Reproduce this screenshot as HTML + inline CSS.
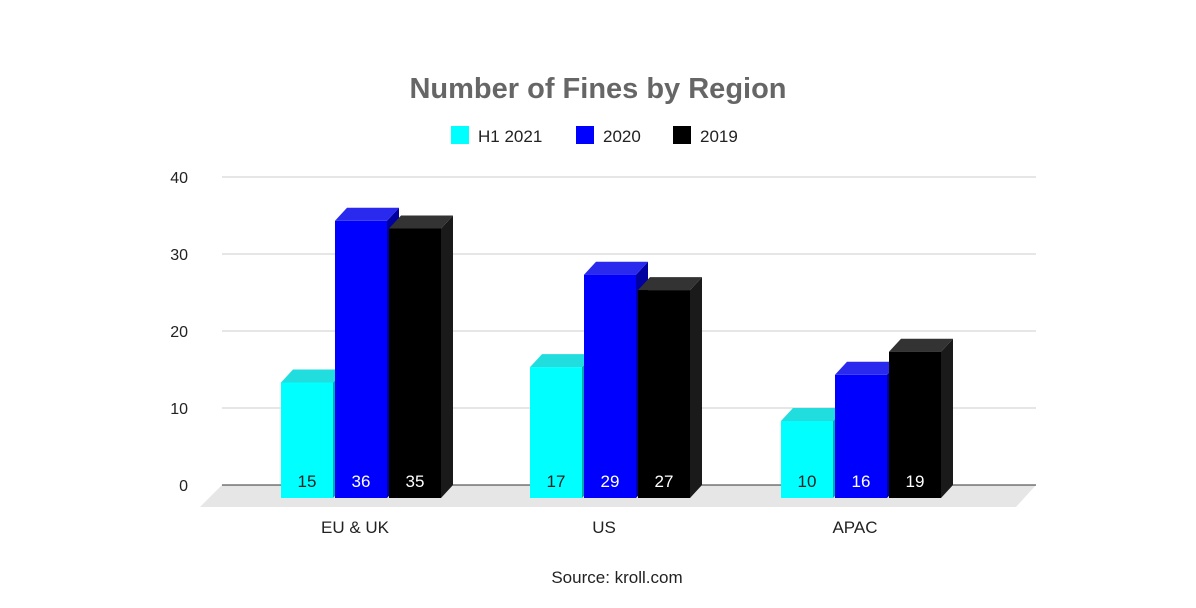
<!DOCTYPE html>
<html><head><meta charset="utf-8"><style>
body{margin:0;background:#fff;width:1196px;height:603px;overflow:hidden;font-family:"Liberation Sans",Arial,sans-serif}
</style></head><body>
<svg width="1196" height="603" font-family="Liberation Sans, Arial, sans-serif">
<text x="598" y="98" text-anchor="middle" font-size="29" font-weight="bold" fill="#666">Number of Fines by Region</text>
<g id="legend"></g>
<g id="grid"></g>
<g id="bars"></g>
<text x="617" y="583" text-anchor="middle" font-size="17" fill="#222">Source: kroll.com</text>
<script>
const categories=["EU & UK","US","APAC"];
const seriesNames=["H1 2021","2020","2019"];
const h1=[15,17,10];
const y2020=[36,29,16];
const y2019=[35,27,19];
const yTicks=[0,10,20,30,40];
const NS="http://www.w3.org/2000/svg";
const series=[h1,y2020,y2019];
const colors=[["#00ffff","#22dddd","#00aaaa"],["#0000ff","#2a2aee","#0000a0"],["#000000","#333333","#1a1a1a"]];
const base=485, unit=7.7, dx=12, dy=13;
function y(v){return base-v*unit;}
function mk(t,a,p){const e=document.createElementNS(NS,t);for(const k in a)e.setAttribute(k,a[k]);p.appendChild(e);return e;}
const grid=document.getElementById('grid'), bars=document.getElementById('bars'), leg=document.getElementById('legend');
// floor
const fl=mk('polygon',{points:`222,${base} 1036,${base} 1016,${base+22} 200,${base+22}`,fill:'#e6e6e6'},grid);


yTicks.forEach(t=>{
  const l=mk('line',{x1:222,x2:1036,y1:y(t),y2:y(t),stroke:t===0?'#333':'#ccc','stroke-width':1},grid);
  
  
  const tx=mk('text',{x:188,y:y(t)+6,'text-anchor':'end','font-size':16,fill:'#222'},grid);
  tx.textContent=t;
  
  
});
const groupX=[281,530,781], bw=52, gap=54;
categories.forEach((c,i)=>{
  series.forEach((s,j)=>{
    const x0=groupX[i]+j*gap, v=s[i], fy=base+dy, top=fy-v*unit;
    const g=mk('g',{},bars);
    
    
    const col=colors[j];
    mk('polygon',{points:`${x0+bw},${top} ${x0+bw+dx},${top-dy} ${x0+bw+dx},${fy-dy} ${x0+bw},${fy}`,fill:col[2]},g);
    mk('polygon',{points:`${x0},${top} ${x0+dx},${top-dy} ${x0+bw+dx},${top-dy} ${x0+bw},${top}`,fill:col[1]},g);
    mk('rect',{x:x0,y:top,width:bw,height:v*unit,fill:col[0]},g);
    const t=mk('text',{x:x0+bw/2,y:fy-11,'text-anchor':'middle','font-size':17,fill:j===0?'#222':'#fff'},g);
    t.textContent=v;
  });
  const cl=mk('text',{x:groupX[i]+gap+bw/2-6,y:533,'text-anchor':'middle','font-size':17,fill:'#222'},bars);
  cl.textContent=c;
  
  
});
const legX=[451,576,673];
seriesNames.forEach((n,j)=>{
  const g=mk('g',{},leg);
  
  
  mk('rect',{x:legX[j],y:126,width:18,height:18,fill:colors[j][0]},g);
  const t=mk('text',{x:legX[j]+27,y:142,'font-size':17,fill:'#222'},g);
  t.textContent=n;
});
</script>
</svg>
</body></html>
